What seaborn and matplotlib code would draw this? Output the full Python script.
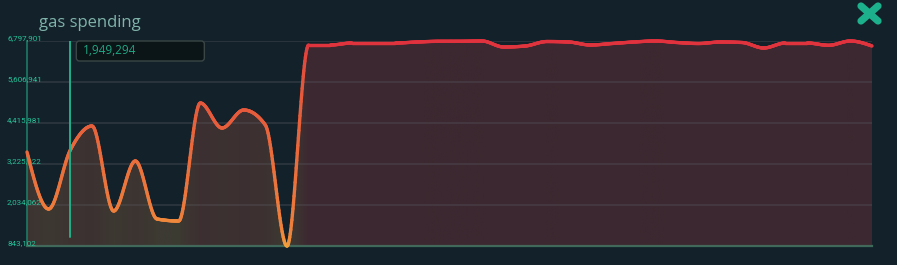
import numpy as np
import pandas as pd
import seaborn as sns
import matplotlib
matplotlib.use("Agg")
import matplotlib.pyplot as plt
from matplotlib.collections import LineCollection
from matplotlib.colors import LinearSegmentedColormap
from matplotlib.patches import FancyBboxPatch
from matplotlib.lines import Line2D
import matplotlib.transforms as mtransforms

# ---------------- data ----------------
title = "gas spending"
gas = [3573600, 1917878, 3631710, 4328862, 1859782, 3312182, 1627398, 1569302,
       4996966, 4270766, 4793630, 4357910, 843102, 6681750, 6681750, 6739846,
       6739846, 6739846, 6768894, 6789228, 6790000, 6797901, 6623654, 6652702,
       6783000, 6768894, 6681750, 6725000, 6768894, 6797901, 6754000, 6725000,
       6768894, 6754000, 6594606, 6739846, 6739846, 6673000, 6797901, 6652702]
cursor_index = 2
cursor_value = "1,949,294"

# ---------------- style ----------------
BG = "#13222a"
TEAL = "#26c29a"
sns.set_theme(style="dark")
plt.rcParams["font.family"] = ["Open Sans", "DejaVu Sans"]

x = np.arange(len(gas), dtype=float)
y = np.array(gas, dtype=float)
vmin, vmax = y.min(), y.max()


def monotone(xp, yp, n=40):
    """d3 curveMonotoneX style interpolation."""
    h = np.diff(xp)
    s = np.diff(yp) / h
    m = np.zeros_like(yp)
    for i in range(1, len(yp) - 1):
        s0, s1 = s[i - 1], s[i]
        if s0 * s1 <= 0:
            m[i] = 0.0
        else:
            p = (s0 * h[i] + s1 * h[i - 1]) / (h[i - 1] + h[i])
            m[i] = (np.sign(s0) + np.sign(s1)) * min(abs(s0), abs(s1), 0.5 * abs(p))
    m[0] = (3 * s[0] - m[1]) / 2
    m[-1] = (3 * s[-1] - m[-2]) / 2
    xs, ys = [], []
    for i in range(len(xp) - 1):
        t = np.linspace(0, 1, n, endpoint=False)
        h00 = 2 * t**3 - 3 * t**2 + 1
        h10 = t**3 - 2 * t**2 + t
        h01 = -2 * t**3 + 3 * t**2
        h11 = t**3 - t**2
        xs.append(xp[i] + t * h[i])
        ys.append(h00 * yp[i] + h10 * h[i] * m[i] + h01 * yp[i + 1] + h11 * h[i] * m[i + 1])
    xs.append([xp[-1]])
    ys.append([yp[-1]])
    return np.concatenate(xs), np.concatenate(ys)


xd, yd = monotone(x, y)
tp = (y - vmin) / (vmax - vmin)
td = np.interp(xd, x, tp)

line_cmap = LinearSegmentedColormap.from_list(
    "ln", [(0, "#f2a53c"), (0.15, "#ee823c"), (0.4, "#ea6e3c"),
           (0.7, "#e4563c"), (1, "#df323e")])
fill_cmap = LinearSegmentedColormap.from_list(
    "fl", [(0, "#3c4034"), (0.2, "#3c3831"), (0.6, "#3d3132"), (1, "#3c2830")])

W, H = 897, 265
fig = plt.figure(figsize=(W / 100, H / 100), dpi=100, facecolor=BG)
ax = fig.add_axes([27 / W, 19 / H, 845 / W, 205 / H])
ax.set_facecolor(BG)

df = pd.DataFrame({"x": xd, "gas": yd})
sns.lineplot(data=df, x="x", y="gas", ax=ax, color="#e8683c", linewidth=0.5, zorder=2)

ax.set_xlim(x[0], x[-1])
ax.set_ylim(vmin, vmax)

# gradient fill under the curve
poly = ax.fill_between(xd, yd, vmin, color="none", linewidth=0)
grad = fill_cmap(np.interp(np.linspace(x[0], x[-1], 1200), x, tp))[None, :, :3]
im = ax.imshow(grad, extent=(x[0], x[-1], vmin, vmax), aspect="auto",
               origin="lower", zorder=1, interpolation="bilinear")
im.set_clip_path(poly.get_paths()[0], transform=ax.transData)

# gradient line
pts = np.column_stack([xd, yd]).reshape(-1, 1, 2)
segs = np.concatenate([pts[:-1], pts[1:]], axis=1)
lc = LineCollection(segs, colors=line_cmap(td[:-1]), linewidths=2.4,
                    capstyle="round", joinstyle="round", zorder=3, clip_on=False)
ax.add_collection(lc)

# grid & axes
ticks = np.linspace(vmin, vmax, 6)
tick_labels = [f"{int(round(v)):,}" for v in ticks]
ax.set_yticks(ticks, tick_labels)
ax.set_xticks([])
ax.set_xlabel("")
ax.set_ylabel("")
ax.yaxis.grid(True, color="#5a5a60", alpha=0.35, linewidth=1.3)
ax.xaxis.grid(False)
ax.set_axisbelow(False)
ax.tick_params(axis="y", length=0, pad=14.4, labelsize=5.8, labelcolor=TEAL)
off = mtransforms.ScaledTranslation(0, 3 / 100, fig.dpi_scale_trans)
for lbl in ax.get_yticklabels():
    lbl.set_ha("left")
    lbl.set_fontfamily("Roboto")
    lbl.set_transform(lbl.get_transform() + off)
    lbl.set_zorder(6)

for side in ("top", "right"):
    ax.spines[side].set_visible(False)
ax.spines["bottom"].set_color("#3d6b5a")
ax.spines["bottom"].set_linewidth(1.6)
ax.spines["left"].set_color("#1c7a64")
ax.spines["left"].set_linewidth(1.2)

# cursor
ax.axvline(cursor_index, ymin=9 / 205, ymax=1, color="#1fb08a", linewidth=1.4, zorder=4)
cx = ax.transData.transform((cursor_index, vmin))[0]
box = FancyBboxPatch(((cx + 6) / 100, (H - 61) / 100), 1.28, 0.20,
                     boxstyle="round,pad=0,rounding_size=0.03",
                     transform=fig.dpi_scale_trans, facecolor="#0b1417",
                     edgecolor="#3a4646", linewidth=1.0, zorder=10)
fig.add_artist(box)
fig.text((cx + 13) / 100, (H - 51) / 100, cursor_value, transform=fig.dpi_scale_trans,
         ha="left", va="center", color="#1ea884", fontsize=8.5, zorder=11)

# title
fig.text(39 / W, (H - 27) / H, title, ha="left", va="baseline",
         color="#80b3aa", fontsize=12)

# close icon (drawn as a bold cross)
for (x0, y0, x1, y1) in [(861, 6, 878, 21), (878, 6, 861, 21)]:
    fig.add_artist(Line2D([x0 / 100, x1 / 100], [(H - y0) / 100, (H - y1) / 100],
                          transform=fig.dpi_scale_trans, color="#1db08c",
                          linewidth=5.2, solid_capstyle="round"))

fig.savefig("out.png", dpi=100, facecolor=BG)
